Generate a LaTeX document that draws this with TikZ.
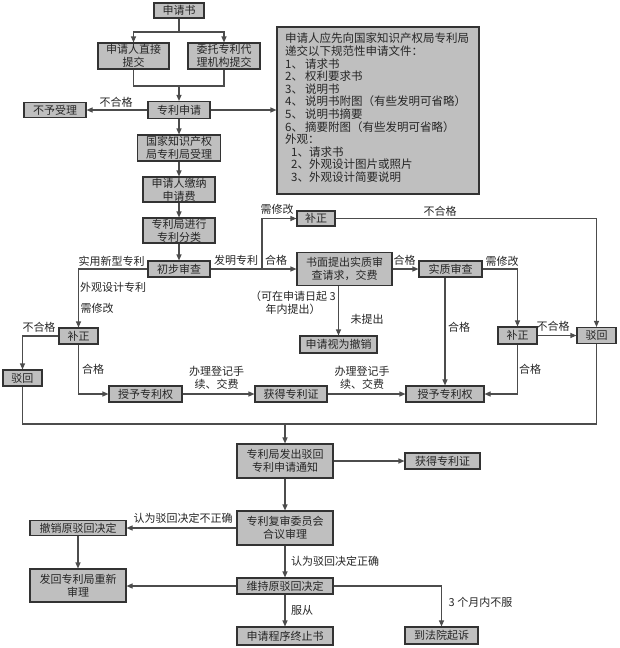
\documentclass[tikz,border=0pt]{standalone}
\usepackage{fontspec}
\newfontfamily\cjk{Noto Sans CJK SC}
\usetikzlibrary{arrows.meta}
\begin{document}
\begin{tikzpicture}[x=1pt,y=-1pt,
  every node/.style={font=\cjk\fontsize{11}{12.7}\selectfont, text=black!85, inner sep=0pt},
  bx/.style={draw=black!80, line width=1.1pt, fill=black!25, align=center},
  sz/.style 2 args={minimum width=#1pt, minimum height=#2pt},
  ln/.style={draw=black!70, line width=1.1pt},
  ar/.style={ln, -{Triangle[length=6pt,width=5pt]}}
]
\useasboundingbox (0,0) rectangle (620,648);
\fill[white] (0,0) rectangle (620,648);

% boxes
\node[bx,sz={50}{15}] (sqs) at (179,10.5) {申请书};
\node[bx,sz={71}{26}] (zj) at (133.5,56) {申请人直接\\提交};
\node[bx,sz={72}{26}] (wt) at (224,56) {委托专利代\\理机构提交};
\node[bx,sz={62}{17}] (zlsq) at (179,110) {专利申请};
\node[bx,sz={62}{15}] (bysl) at (55,110) {不予受理};
\node[bx,sz={202}{167}] (req) at (378,110.5) {};
\node[anchor=north west, align=left, font=\cjk\fontsize{11.5}{12.6}\selectfont] (reqtxt) at (285,33) {申请人应先向国家知识产权局专利局\\递交以下规范性申请文件：\\\makebox[20pt][l]{1、}请求书\\\makebox[20pt][l]{2、}权利要求书\\\makebox[20pt][l]{3、}说明书\\\makebox[20pt][l]{4、}说明书附图（有些发明可省略）\\\makebox[20pt][l]{5、}说明书摘要\\\makebox[20pt][l]{6、}摘要附图（有些发明可省略）\\外观：\\\hspace*{6pt}\makebox[18pt][l]{1、}请求书\\\hspace*{6pt}\makebox[18pt][l]{2、}外观设计图片或照片\\\hspace*{6pt}\makebox[18pt][l]{3、}外观设计简要说明};
\node[bx,sz={83}{26}] (gjsl) at (179,148) {国家知识产权\\局专利局受理};
\node[bx,sz={72}{25}] (jn) at (179,189.5) {申请人缴纳\\申请费};
\node[bx,sz={72}{25}] (fl) at (179,230.5) {专利局进行\\专利分类};
\node[bx,sz={62}{16}] (cbsc) at (179,269) {初步审查};
\node[bx,sz={38}{15}] (bz1) at (316,218.5) {补正};
\node[bx,sz={95}{33}] (sm) at (344.5,269) {书面提出实质审\\查请求，交费};
\node[align=center] (note) at (293,302.5) {（可在申请日起 3\\年内提出）};
\node[bx,sz={77}{17}] (cx) at (338.5,344.5) {申请视为撤销};
\node[bx,sz={63}{16}] (szsc) at (450.5,269) {实质审查};
\node[bx,sz={39}{16}] (bz2) at (78.5,336) {补正};
\node[bx,sz={39}{16}] (bh1) at (22.5,378) {驳回};
\node[bx,sz={73}{16}] (sy1) at (145.5,394) {授予专利权};
\node[bx,sz={72}{16}] (hd1) at (291,394) {获得专利证};
\node[bx,sz={78}{16}] (sy2) at (445,394) {授予专利权};
\node[bx,sz={39}{17}] (bz3) at (517.5,335.5) {补正};
\node[bx,sz={39}{16}] (bh2) at (596.5,335.5) {驳回};
\node[bx,sz={96}{34}] (fc) at (285,461) {专利局发出驳回\\专利申请通知};
\node[bx,sz={75}{16}] (hd2) at (442.5,461) {获得专利证};
\node[bx,sz={96}{34}] (fs) at (285,528) {专利复审委员会\\合议审理};
\node[bx,sz={96}{15}] (cxy) at (78,528) {撤销原驳回决定};
\node[bx,sz={96}{33}] (fh) at (78,585.5) {发回专利局重新\\审理};
\node[bx,sz={96}{16}] (wc) at (285,586) {维持原驳回决定};
\node[bx,sz={96}{18}] (zz) at (285,636) {申请程序终止书};
\node[bx,sz={73}{17}] (fy) at (441.5,635.5) {到法院起诉};

% connectors
\coordinate (j1) at (179,32);
\coordinate (j2) at (179,86);
\draw[ln] (sqs.south) -- (j1);
\draw[ar] (j1) -| (zj.north);
\draw[ar] (j1) -| (wt.north);
\draw[ln] (zj.south) |- (j2);
\draw[ln] (wt.south) |- (j2);
\draw[ar] (j2) -- (zlsq.north);
\draw[ar] (zlsq.west) -- (bysl.east);
\draw[ar] (zlsq.east) -- (zlsq.east -| req.west);
\draw[ar] (zlsq) -- (gjsl);
\draw[ar] (gjsl) -- (jn);
\draw[ar] (jn) -- (fl);
\draw[ar] (fl) -- (cbsc);
\draw[ar] (cbsc.east) -- (sm.west);
\coordinate (fork) at (262,269);
\draw[ar] (fork) |- (bz1.west);
\draw[ar] (bz1.east) -| (bh2.north);
\draw[ar] (sm.east) -- (szsc.west);
\draw[ar] (cx.north |- sm.south) -- (cx.north);
\draw[ar] (cbsc.west) -| (bz2.north);
\draw[ar] (bz2.west) -| (bh1.north);
\draw[ar] (bz2.south) |- (sy1.west);
\draw[ar] (sy1) -- (hd1);
\draw[ar] (hd1) -- (sy2);
\draw[ar] (szsc.east) -| (bz3.north);
\draw[ar] (sy2.north |- szsc.south) -- (sy2.north);
\draw[ar] (bz3) -- (bh2);
\draw[ar] (bz3.south) |- (sy2.east);
\coordinate (lpL) at (22.5,424);
\coordinate (lpR) at (596.5,424);
\draw[ln] (bh1.south) -- (lpL) -- (lpR) -- (bh2.south);
\draw[ar] (fc.north |- lpL) -- (fc.north);
\draw[ar] (fc) -- (hd2);
\draw[ar] (fc) -- (fs);
\draw[ar] (fs.west) -- (cxy.east);
\draw[ar] (cxy) -- (fh);
\draw[ar] (fs) -- (wc);
\draw[ar] (wc.west) -- (fh.east |- wc.west);
\draw[ar] (wc.east) -| (fy.north);
\draw[ar] (wc) -- (zz);

% labels
\node (l1) at (116,102) {不合格};
\node (l2) at (440,211) {不合格};
\node (l3) at (277,209) {需修改};
\node (l4) at (236,260) {发明专利};
\node (l5) at (276,260) {合格};
\node (l6) at (111.5,261) {实用新型专利};
\node (l7) at (113,287) {外观设计专利};
\node (l8) at (97,308) {需修改};
\node (l9) at (39,327) {不合格};
\node (l10) at (93,369) {合格};
\node[align=center] (l11) at (216.5,377.5) {办理登记手\\续、交费};
\node[align=center] (l12) at (362,377.5) {办理登记手\\续、交费};
\node (l13) at (367,319) {未提出};
\node (l14) at (404.5,260) {合格};
\node (l15) at (502,261) {需修改};
\node (l16) at (459,327) {合格};
\node (l17) at (553,326) {不合格};
\node (l18) at (530,369) {合格};
\node (l19) at (183,518) {认为驳回决定不正确};
\node (l20) at (335,561) {认为驳回决定正确};
\node (l21) at (302,610) {服从};
\node (l22) at (480.5,602) {3 个月内不服};
\end{tikzpicture}
\end{document}
